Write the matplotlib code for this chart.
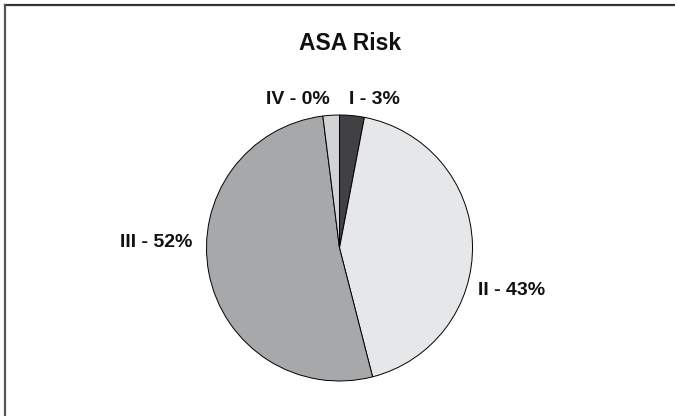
import matplotlib
matplotlib.use('Agg')
import matplotlib.pyplot as plt
from matplotlib.lines import Line2D

plt.rcParams['font.family'] = ['Liberation Sans', 'DejaVu Sans']

# ASA risk classes, clockwise from the top
classes = ['I', 'II', 'III', 'IV']
shares = [3, 43, 52, 2]
shown_pct = ['3%', '43%', '52%', '0%']
colors = ['#414143', '#e6e7e8', '#a7a8aa', '#d2d3d5']

# label anchors in pie units (radius = 1)
label_xy = [(0.071, 1.113), (1.041, -0.323), (-1.109, 0.038), (-0.071, 1.113)]
label_ha = ['left', 'left', 'right', 'right']

W, H = 675, 416
fig = plt.figure(figsize=(W / 100, H / 100), dpi=100)

# frame: only top and left edges show inside the image
x0, y0 = 4.5 / W, 1 - 5 / H
fig.add_artist(Line2D([x0, 1.05], [y0, y0], transform=fig.transFigure,
                      color='#333333', linewidth=1.6))
fig.add_artist(Line2D([x0, x0], [-0.05, y0], transform=fig.transFigure,
                      color='#555555', linewidth=1.6))

cx, cy, r = 339.5, 248, 133
ax = fig.add_axes([(cx - r) / W, (H - cy - r) / H, 2 * r / W, 2 * r / H])
ax.pie(shares, colors=colors, startangle=90, counterclock=False,
       wedgeprops={'edgecolor': 'black', 'linewidth': 0.7})
ax.set_xlim(-1, 1)
ax.set_ylim(-1, 1)
ax.set_aspect('equal')
ax.axis('off')

for name, pct, (x, y), ha in zip(classes, shown_pct, label_xy, label_ha):
    ax.text(x, y, f'{name} - {pct}', ha=ha, va='center', fontsize=14,
            fontweight='bold', color='#111111', clip_on=False)

fig.text(350 / W, 1 - 44 / H, 'ASA Risk', ha='center', va='center',
         fontsize=16.5, fontweight='bold', color='#111111')

fig.savefig('out.png', dpi=100, facecolor='white')
